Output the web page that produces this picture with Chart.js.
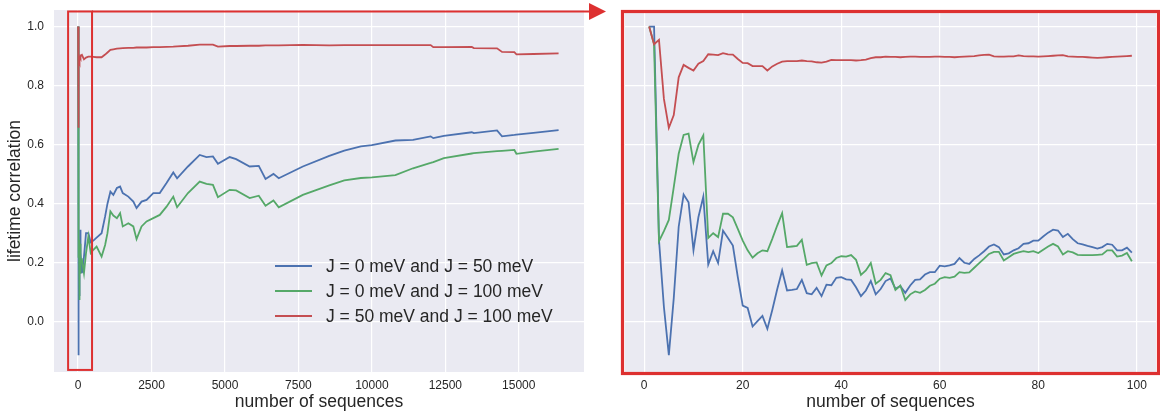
<!DOCTYPE html>
<html>
<head>
<meta charset="utf-8">
<script src="https://cdn.jsdelivr.net/npm/chart.js@4.4.1/dist/chart.umd.min.js"></script>
<style>
    html, body { margin: 0; padding: 0; background: #fff; }
    #wrap { position: relative; width: 1160px; height: 416px; overflow: hidden; }
    #fullChart { position: absolute; left: 0; top: 0; }
    #zoomChart { position: absolute; left: 600px; top: 0; }
</style>
</head>
<body>
<div id="wrap">
    <canvas id="fullChart" width="610" height="416"></canvas>
    <canvas id="zoomChart" width="560" height="416"></canvas>
</div>
<script>
const SERIES_LABELS = [
    'J = 0 meV and J = 50 meV',
    'J = 0 meV and J = 100 meV',
    'J = 50 meV and J = 100 meV',
];

// first 99 sequences (right panel, also the start of the left panel)
const FIRST_N = Array.from({ length: 99 }, (_, i) => i + 1);

const BLUE_FIRST = [
    1.0, 1.0, 0.277, 0.05, -0.113, 0.08, 0.322, 0.431, 0.405, 0.242,
    0.354, 0.424, 0.194, 0.239, 0.199, 0.309, 0.284, 0.258, 0.151, 0.055,
    0.047, -0.016, 0.002, 0.02, -0.024, 0.04, 0.11, 0.174, 0.106, 0.108,
    0.111, 0.142, 0.097, 0.093, 0.115, 0.087, 0.126, 0.124, 0.149, 0.151,
    0.144, 0.142, 0.117, 0.087, 0.106, 0.138, 0.093, 0.111, 0.138, 0.147,
    0.112, 0.121, 0.098, 0.123, 0.142, 0.144, 0.160, 0.168, 0.168, 0.190,
    0.188, 0.191, 0.196, 0.216, 0.200, 0.196, 0.213, 0.225, 0.239, 0.255,
    0.262, 0.253, 0.228, 0.232, 0.242, 0.249, 0.264, 0.266, 0.275, 0.275,
    0.289, 0.302, 0.312, 0.309, 0.287, 0.298, 0.280, 0.266, 0.262, 0.257,
    0.253, 0.248, 0.253, 0.264, 0.261, 0.242, 0.242, 0.251, 0.234,
];
const GREEN_FIRST = [
    1.0, 0.94, 0.273, 0.307, 0.345, 0.456, 0.569, 0.633, 0.637, 0.541,
    0.599, 0.631, 0.284, 0.300, 0.287, 0.366, 0.366, 0.354, 0.315, 0.275,
    0.242, 0.217, 0.232, 0.242, 0.239, 0.281, 0.326, 0.368, 0.253, 0.255,
    0.257, 0.278, 0.193, 0.199, 0.201, 0.157, 0.191, 0.199, 0.216, 0.222,
    0.221, 0.226, 0.210, 0.159, 0.174, 0.199, 0.129, 0.142, 0.165, 0.158,
    0.108, 0.123, 0.074, 0.093, 0.103, 0.098, 0.108, 0.122, 0.129, 0.146,
    0.151, 0.149, 0.153, 0.168, 0.166, 0.167, 0.183, 0.199, 0.214, 0.230,
    0.237, 0.237, 0.208, 0.219, 0.230, 0.235, 0.239, 0.236, 0.239, 0.233,
    0.244, 0.255, 0.264, 0.255, 0.228, 0.239, 0.235, 0.227, 0.226, 0.226,
    0.226, 0.227, 0.228, 0.242, 0.242, 0.221, 0.224, 0.233, 0.205,
];
const RED_FIRST = [
    1.0, 0.94, 0.955, 0.755, 0.657, 0.70, 0.828, 0.87, 0.86, 0.851,
    0.874, 0.883, 0.906, 0.905, 0.903, 0.91, 0.906, 0.905, 0.89, 0.877,
    0.876, 0.866, 0.866, 0.866, 0.851, 0.865, 0.874, 0.881, 0.883, 0.883,
    0.883, 0.885, 0.883, 0.882, 0.879, 0.878, 0.881, 0.887, 0.886, 0.886,
    0.886, 0.886, 0.885, 0.886, 0.888, 0.893, 0.896, 0.896, 0.898, 0.897,
    0.897, 0.896, 0.897, 0.898, 0.898, 0.897, 0.897, 0.897, 0.898, 0.898,
    0.897, 0.897, 0.896, 0.897, 0.898, 0.899, 0.900, 0.902, 0.904, 0.905,
    0.899, 0.898, 0.898, 0.899, 0.899, 0.902, 0.900, 0.899, 0.899, 0.898,
    0.899, 0.900, 0.901, 0.902, 0.903, 0.899, 0.898, 0.897, 0.897, 0.896,
    0.895, 0.894, 0.895, 0.896, 0.897, 0.898, 0.899, 0.900, 0.901,
];

// sparse readings of the long run (left panel, beyond the first 99)
const LONG_X = [
    130, 200, 270, 350, 430, 520, 630, 800, 920, 1000,
    1100, 1200, 1320, 1430, 1520, 1710, 1880, 1990, 2160, 2330,
    2560, 2780, 3010, 3240, 3370, 3740, 4140, 4370, 4590, 4760,
    5160, 5380, 5840, 6150, 6380, 6650, 6830, 7650, 8550, 9060,
    9625, 10000, 10800, 11400, 12000, 12090, 12450, 13400, 13470, 14260,
    14430, 14850, 14920, 15500, 16355,
];
const BLUE_LONG = [
    0.165, 0.22, 0.30, 0.30, 0.269, 0.275, 0.285, 0.30, 0.357, 0.40,
    0.441, 0.43, 0.453, 0.458, 0.436, 0.424, 0.407, 0.385, 0.407, 0.413,
    0.436, 0.436, 0.47, 0.506, 0.486, 0.526, 0.565, 0.558, 0.56, 0.535,
    0.558, 0.551, 0.526, 0.528, 0.484, 0.501, 0.486, 0.526, 0.562, 0.58,
    0.594, 0.598, 0.614, 0.616, 0.628, 0.622, 0.630, 0.642, 0.639, 0.648,
    0.628, 0.633, 0.634, 0.64, 0.649,
];
const GREEN_LONG = [
    0.21, 0.165, 0.233, 0.289, 0.233, 0.244, 0.255, 0.221, 0.26, 0.30,
    0.374, 0.36, 0.351, 0.368, 0.323, 0.334, 0.323, 0.28, 0.323, 0.34,
    0.351, 0.362, 0.39, 0.424, 0.388, 0.436, 0.475, 0.467, 0.464, 0.422,
    0.447, 0.445, 0.419, 0.427, 0.393, 0.411, 0.388, 0.43, 0.462, 0.479,
    0.487, 0.489, 0.497, 0.52, 0.538, 0.541, 0.554, 0.570, 0.571, 0.578,
    0.579, 0.582, 0.569, 0.576, 0.586,
];
const RED_LONG = [
    0.904, 0.889, 0.895, 0.898, 0.898, 0.897, 0.896, 0.896, 0.905, 0.912,
    0.921, 0.923, 0.925, 0.926, 0.927, 0.928, 0.928, 0.929, 0.929, 0.929,
    0.930, 0.930, 0.931, 0.932, 0.933, 0.935, 0.939, 0.939, 0.939, 0.932,
    0.934, 0.934, 0.935, 0.935, 0.936, 0.936, 0.936, 0.938, 0.936, 0.937,
    0.937, 0.937, 0.937, 0.937, 0.937, 0.930, 0.930, 0.931, 0.927, 0.926,
    0.914, 0.913, 0.906, 0.907, 0.909,
];

const Y_TICKS      = [0, 0.2, 0.4, 0.6, 0.8, 1.0];
const FULL_X_TICKS = [0, 2500, 5000, 7500, 10000, 12500, 15000];
const ZOOM_X_TICKS = [0, 20, 40, 60, 80, 100];

const COLORS   = ['#4c72b0', '#55a868', '#c44e52'];
const MARK_RED = '#dd3030';
const TEXT     = '#262626';
const FONT     = '"Liberation Sans", Arial, sans-serif';

const Y_RANGE   = { min: -0.17, max: 1.056 };
const ZOOM_BOX  = { xMin: -340, xMax: 475, yMin: -0.163, yMax: 1.051 };

const toPoints = (xs, ys) => xs.map((x, i) => ({ x, y: ys[i] }));

function datasets(blue, green, red) {
    return [blue, green, red].map((data, i) => ({
        label:       SERIES_LABELS[i],
        data,
        borderColor: COLORS[i],
        borderWidth: 1.8,
        pointRadius: 0,
        tension:     0,
        order:       2 - i, // red on top, blue underneath
    }));
}

const plotBackground = {
    id: 'plotBackground',
    beforeDraw(chart) {
        const { ctx, chartArea: a } = chart;
        ctx.save();
        ctx.fillStyle = '#eaeaf2';
        ctx.fillRect(a.left, a.top, a.right - a.left, a.bottom - a.top);
        ctx.restore();
    },
};

const insideLegend = {
    id: 'insideLegend',
    afterDraw(chart) {
        const { ctx } = chart;
        ctx.save();
        ctx.font = `17.5px ${FONT}`;
        ctx.textBaseline = 'middle';
        chart.data.datasets.forEach((ds, i) => {
            const y = 266 + i * 25;
            ctx.strokeStyle = ds.borderColor;
            ctx.lineWidth = 2;
            ctx.beginPath();
            ctx.moveTo(275, y);
            ctx.lineTo(312, y);
            ctx.stroke();
            ctx.fillStyle = TEXT;
            ctx.fillText(ds.label, 326, y + 1);
        });
        ctx.restore();
    },
};

const zoomMarker = {
    id: 'zoomMarker',
    afterDraw(chart) {
        const { ctx, scales: { x, y } } = chart;
        const l = x.getPixelForValue(ZOOM_BOX.xMin);
        const r = x.getPixelForValue(ZOOM_BOX.xMax);
        const t = y.getPixelForValue(ZOOM_BOX.yMax);
        const b = y.getPixelForValue(ZOOM_BOX.yMin);
        ctx.save();
        ctx.strokeStyle = MARK_RED;
        ctx.fillStyle = MARK_RED;
        ctx.lineWidth = 2;
        ctx.strokeRect(l, t, r - l, b - t);
        ctx.beginPath();
        ctx.moveTo(r, t);
        ctx.lineTo(592, t);
        ctx.stroke();
        ctx.beginPath();
        ctx.moveTo(589, t - 8.5);
        ctx.lineTo(606, t);
        ctx.lineTo(589, t + 8.5);
        ctx.closePath();
        ctx.fill();
        ctx.restore();
    },
};

const zoomFrame = {
    id: 'zoomFrame',
    afterDraw(chart) {
        const { ctx, chartArea: a } = chart;
        ctx.save();
        ctx.strokeStyle = MARK_RED;
        ctx.lineWidth = 3.2;
        ctx.strokeRect(a.left - 2.5, a.top + 1.5, a.right - a.left + 5, a.bottom - a.top);
        ctx.restore();
    },
};

function scales({ xMin, xMax, xTicks, yWidth, showY }) {
    const grid = { color: '#ffffff', lineWidth: 1.2, drawTicks: false };
    return {
        x: {
            type: 'linear',
            min: xMin,
            max: xMax,
            afterBuildTicks: s => { s.ticks = xTicks.map(value => ({ value })); },
            afterFit: s => { s.height = 44; s.paddingLeft = 0; s.paddingRight = 0; },
            grid,
            border: { display: false },
            ticks: {
                callback:    v => String(v),
                autoSkip:    false,
                maxRotation: 0,
                padding:     6,
                color:       TEXT,
                font:        { family: FONT, size: 12 },
            },
            title: {
                display: true,
                text:    'number of sequences',
                color:   TEXT,
                font:    { family: FONT, size: 17.5 },
                padding: { top: 0, bottom: 3 },
            },
        },
        y: {
            min: Y_RANGE.min,
            max: Y_RANGE.max,
            afterBuildTicks: s => { s.ticks = Y_TICKS.map(value => ({ value })); },
            afterFit: s => { s.width = yWidth; s.paddingTop = 0; s.paddingBottom = 0; },
            grid,
            border: { display: false },
            ticks: {
                display:  showY,
                callback: v => v.toFixed(1),
                padding:  10,
                color:    TEXT,
                font:     { family: FONT, size: 12 },
            },
            title: {
                display: showY,
                text:    'lifetime correlation',
                color:   TEXT,
                font:    { family: FONT, size: 17.5 },
                padding: { top: 5, bottom: 0 },
            },
        },
    };
}

const baseOptions = {
    responsive: false,
    animation:  false,
    plugins: {
        legend:  { display: false },
        tooltip: { enabled: false },
    },
};

new Chart(document.getElementById('fullChart').getContext('2d'), {
    type: 'line',
    data: {
        datasets: datasets(
            [...toPoints(FIRST_N, BLUE_FIRST),  ...toPoints(LONG_X, BLUE_LONG)],
            [...toPoints(FIRST_N, GREEN_FIRST), ...toPoints(LONG_X, GREEN_LONG)],
            [...toPoints(FIRST_N, RED_FIRST),   ...toPoints(LONG_X, RED_LONG)],
        ),
    },
    options: {
        ...baseOptions,
        layout: { padding: { left: 0, right: 26, top: 10, bottom: 0 } },
        scales: scales({ xMin: -820, xMax: 17220, xTicks: FULL_X_TICKS, yWidth: 54, showY: true }),
    },
    plugins: [plotBackground, insideLegend, zoomMarker],
});

new Chart(document.getElementById('zoomChart').getContext('2d'), {
    type: 'line',
    data: {
        datasets: datasets(
            toPoints(FIRST_N, BLUE_FIRST),
            toPoints(FIRST_N, GREEN_FIRST),
            toPoints(FIRST_N, RED_FIRST),
        ),
    },
    options: {
        ...baseOptions,
        layout: { padding: { left: 0, right: 4, top: 10, bottom: 0 } },
        scales: scales({ xMin: -3.9, xMax: 103.9, xTicks: ZOOM_X_TICKS, yWidth: 25, showY: false }),
    },
    plugins: [plotBackground, zoomFrame],
});
</script>
</body>
</html>
